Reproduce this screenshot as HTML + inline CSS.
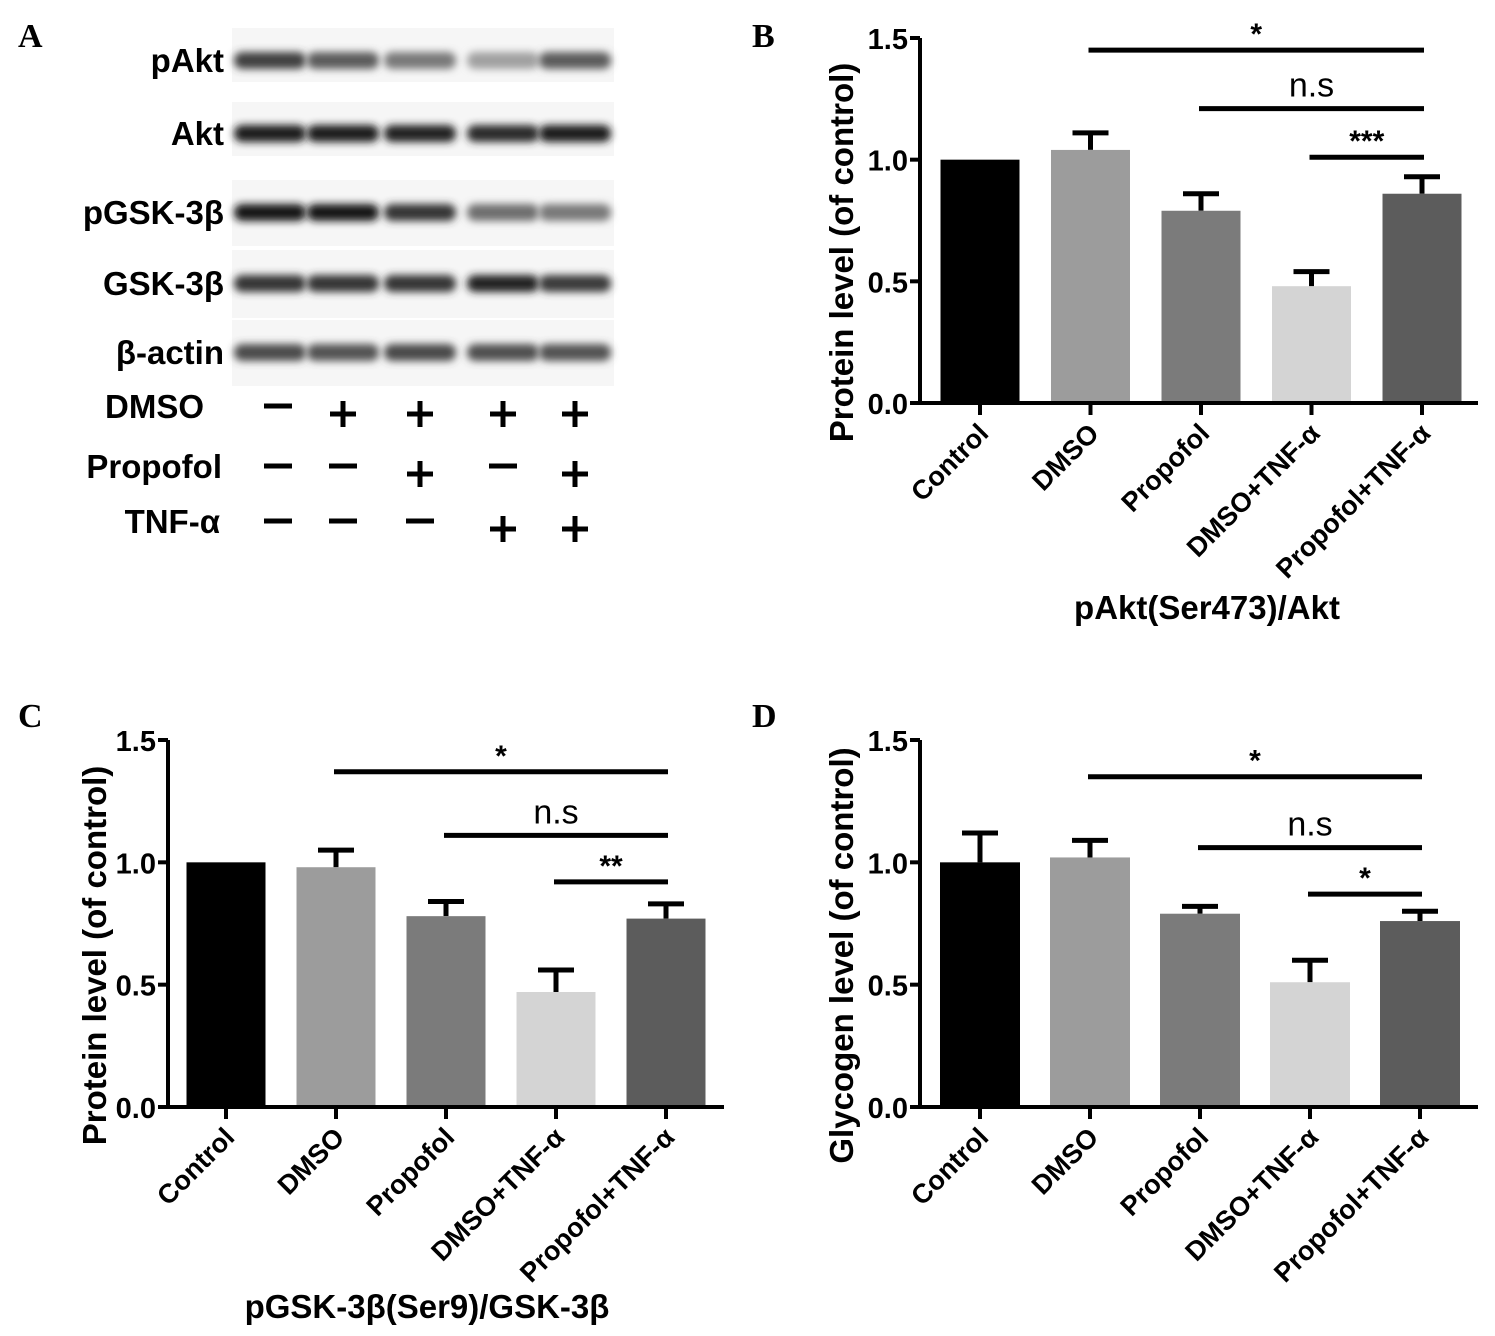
<!DOCTYPE html>
<html><head><meta charset="utf-8">
<style>
html,body{margin:0;padding:0;background:#fff;}
svg{display:block;font-family:"Liberation Sans",Arial,sans-serif;}
.t{font-weight:bold;fill:#000;}
</style></head>
<body>
<svg id="fig" width="1495" height="1336" viewBox="0 0 1495 1336" xmlns="http://www.w3.org/2000/svg">
<defs>
<filter id="blur" x="-20%" y="-50%" width="140%" height="200%"><feGaussianBlur stdDeviation="4"/></filter>
</defs>
<g id="panelA"></g>
<g id="panelB"></g>
<g id="panelC"></g>
<g id="panelD"></g>
</svg>
<script>
// ---- data ----
const categories = ["Control","DMSO","Propofol","DMSO+TNF-α","Propofol+TNF-α"];
const colors = ["#000000","#9c9c9c","#7b7b7b","#d4d4d4","#5c5c5c"];
const yTicks = [0.0,0.5,1.0,1.5];
const tickLabels = ["0.0","0.5","1.0","1.5"];
const valuesB = [1.0,1.04,0.79,0.48,0.86];
const errB = [0,0.07,0.07,0.06,0.07];
const valuesC = [1.0,0.98,0.78,0.47,0.77];
const errC = [0,0.07,0.06,0.09,0.06];
const valuesD = [1.0,1.02,0.79,0.51,0.76];
const errD = [0.12,0.07,0.03,0.09,0.04];
const sigB = [[1,4,1.45,"*"],[2,4,1.21,"n.s"],[3,4,1.01,"***"]];
const sigC = [[1,4,1.37,"*"],[2,4,1.11,"n.s"],[3,4,0.92,"**"]];
const sigD = [[1,4,1.35,"*"],[2,4,1.06,"n.s"],[3,4,0.87,"*"]];
const blotRows = ["pAkt","Akt","pGSK-3β","GSK-3β","β-actin"];
const blotIntensity = [
 [0.8,0.68,0.55,0.38,0.68],
 [0.95,0.95,0.93,0.9,0.95],
 [1.0,1.0,0.85,0.6,0.55],
 [0.85,0.85,0.85,0.93,0.83],
 [0.75,0.72,0.76,0.74,0.72]];
const treatRows = ["DMSO","Propofol","TNF-α"];
const treat = [["−","+","+","+","+"],["−","−","+","−","+"],["−","−","−","+","+"]];

const NS="http://www.w3.org/2000/svg";
function mk(tag,attrs,parent,text){const e=document.createElementNS(NS,tag);for(const k in attrs)e.setAttribute(k,attrs[k]);if(text!==undefined)e.textContent=text;parent.appendChild(e);return e;}

// ---- Panel A ----
const A=document.getElementById('panelA');
let t=mk('text',{x:18,y:47,'font-family':'Liberation Serif, serif','font-weight':'bold','font-size':34},A,'A');


const laneX=[270,343,420,503,575];
const rowY=[60,133,212,283,352];
const boxes=[[28,82],[102,156],[180,246],[250,318],[320,386]];
blotRows.forEach((r,i)=>{
  const bx=mk('rect',{x:232,y:boxes[i][0],width:382,height:boxes[i][1]-boxes[i][0],fill:'#f6f6f6'},A);
  
  
  const lb=mk('text',{x:224,y:rowY[i]+12,'text-anchor':'end','font-size':33,class:'t'},A,r);
  
  
  laneX.forEach((x,j)=>{
    const v=blotIntensity[i][j];const g=Math.round(245-v*225);
    const b=mk('rect',{x:x-36,y:rowY[i]-8,width:72,height:17,rx:8,fill:`rgb(${g},${g},${g})`,filter:'url(#blur)'},A);
    
    
  });
});
const treatY=[410,470,525];
const treatLabelX=[204,222,220];
treatRows.forEach((r,i)=>{
  const lb=mk('text',{x:treatLabelX[i],y:treatY[i]+8,'text-anchor':'end','font-size':33,class:'t'},A,r);
  
  
  laneX.forEach((x,j)=>{
    const s=treat[i][j];
    const cx=x+(j===0?8:0), cy=treatY[i]+(s==='+'?4:-4);
    const d = s==='+' ? `M${cx-13} ${cy}H${cx+13}M${cx} ${cy-13}V${cy+13}` : `M${cx-14} ${cy}H${cx+14}`;
    const m=mk('path',{d:d,stroke:'#000','stroke-width':5,fill:'none'},A);
    
    
  });
});

// ---- Bar charts ----
function chart(gid,cfg){
  const G=document.getElementById(gid);
  const {ax,y0,y15,xEnd,x0,step,bw,vals,errs,sig,letter,lx,ly,ytitle,yTitleX,xtitle,xtx,xty}=cfg;
  const ys=v=>y0-(y0-y15)*v/1.5;
  const cx=i=>x0+i*step;
  let e=mk('text',{x:lx,y:ly,'font-family':'Liberation Serif, serif','font-weight':'bold','font-size':34},G,letter);
  
  
  vals.forEach((v,i)=>{
    const top=ys(v+errs[i]);
    if(errs[i]>0){
      const el=mk('path',{d:`M${cx(i)} ${ys(v)}V${top}M${cx(i)-18} ${top}H${cx(i)+18}`,stroke:'#000','stroke-width':5,fill:'none'},G);
      
      
    }
    const r=mk('rect',{x:cx(i)-bw/2,y:ys(v),width:bw,height:y0-ys(v),fill:colors[i]},G);
    
    
    const tk=mk('line',{x1:cx(i),x2:cx(i),y1:y0,y2:y0+12,stroke:'#000','stroke-width':4},G);
    
    
    const lb=mk('text',{x:0,y:0,'text-anchor':'end','font-size':27,class:'t',transform:`translate(${cx(i)+10},${y0+32}) rotate(-45)`},G,categories[i]);
    
    
  });
  const axl=mk('path',{d:`M${ax} ${y15}V${y0}H${xEnd}`,stroke:'#000','stroke-width':4,fill:'none'},G);
  
  
  yTicks.forEach((v,i)=>{
    const l=mk('line',{x1:ax-10,x2:ax,y1:ys(v),y2:ys(v),stroke:'#000','stroke-width':4},G);
    
    
    const tx=mk('text',{x:ax-12,y:ys(v)+11,'text-anchor':'end','font-size':29,class:'t'},G,tickLabels[i]);
    
    
  });
  sig.forEach(s=>{
    const y=ys(s[2]);
    const ln=mk('line',{x1:cx(s[0])-2,x2:cx(s[1])+2,y1:y,y2:y,stroke:'#000','stroke-width':5},G);
    
    
    const mx=(cx(s[0])+cx(s[1]))/2;
    const st=mk('text',{x:mx,y:s[3]==='n.s'?y-12:y-6,'text-anchor':'middle','font-size':s[3]==='n.s'?34:30,'font-weight':s[3]==='n.s'?'normal':'bold'},G,s[3]);
    
    
  });
  const yt=mk('text',{x:0,y:0,'text-anchor':'middle','font-size':33,class:'t',transform:`translate(${yTitleX},${(y0+y15)/2+32}) rotate(-90)`},G,ytitle);
  
  
  if(xtitle){
    const xt=mk('text',{x:xtx,y:xty,'text-anchor':'middle','font-size':33,class:'t'},G,xtitle);
    
    
  }
}
chart('panelB',{ax:920,y0:403,y15:38,xEnd:1478,x0:980,step:110.5,bw:79,vals:valuesB,errs:errB,sig:sigB,letter:'B',lx:752,ly:47,ytitle:'Protein level (of control)',yTitleX:853,xtitle:'pAkt(Ser473)/Akt',xtx:1207,xty:619});
chart('panelC',{ax:168,y0:1107,y15:740,xEnd:724,x0:226,step:110,bw:79,vals:valuesC,errs:errC,sig:sigC,letter:'C',lx:18,ly:727,ytitle:'Protein level (of control)',yTitleX:106,xtitle:'pGSK-3β(Ser9)/GSK-3β',xtx:427,xty:1318});
chart('panelD',{ax:920,y0:1107,y15:740,xEnd:1478,x0:980,step:110,bw:80,vals:valuesD,errs:errD,sig:sigD,letter:'D',lx:752,ly:727,ytitle:'Glycogen level (of control)',yTitleX:853,xtitle:'',xtx:0,xty:0});
</script>
</body></html>
